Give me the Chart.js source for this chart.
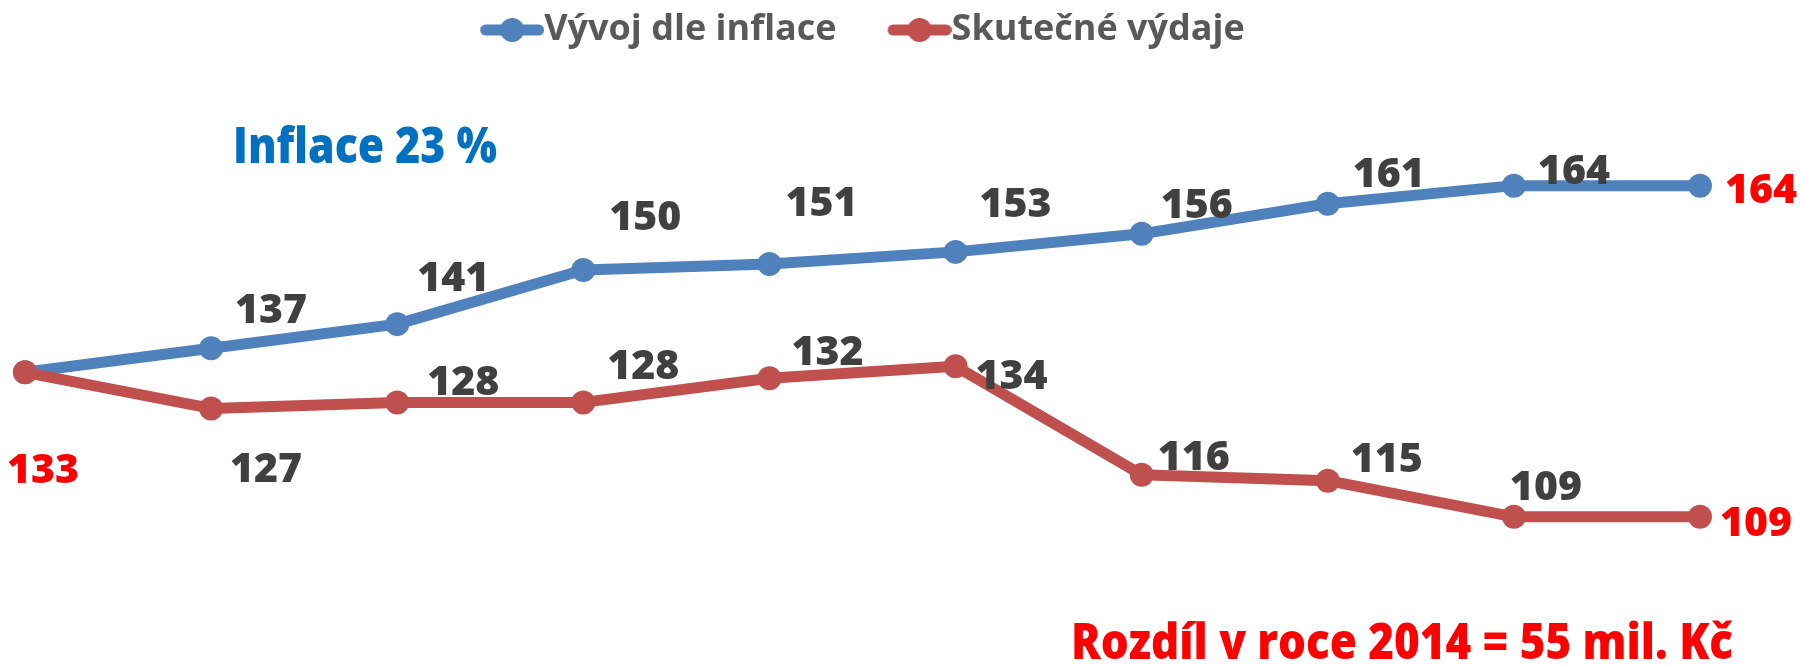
<!DOCTYPE html>
<html>
<head>
<meta charset="utf-8">
<script src="https://cdn.jsdelivr.net/npm/chart.js@4.4.1/dist/chart.umd.min.js"></script>
<style>
html,body{margin:0;padding:0;background:#ffffff;overflow:hidden}
#wrap{position:relative;width:1800px;height:666px}
</style>
</head>
<body>
<div id="wrap"><canvas id="c" width="1800" height="666"></canvas></div>
<script>
// ---- data ----
const categories = ['2005','2006','2007','2008','2009','2010','2011','2012','2013','2014'];
const inflationSeries = [133, 137, 141, 150, 151, 153, 156, 161, 164, 164];
const actualSeries    = [133, 127, 128, 128, 132, 134, 116, 115, 109, 109];
const seriesNames = ['Vývoj dle inflace', 'Skutečné výdaje'];
const inflationNote = 'Inflace 23 %';
const differenceNote = 'Rozdíl v roce 2014 = 55 mil. Kč';

// ---- styling / label placement (offsets from point to label centre) ----
const FONT = '"Open Sans", "Liberation Sans", sans-serif';
const BLUE = '#4F81BD', RED = '#C0504D';
const blueLabelOffsets = [null,[60,-40],[56,-48],[62,-55],[52,-63],[60,-50],[55,-30],[61,-31],[60,-16],[61,3]];
const redLabelOffsets  = [[18,96],[55,59],[66,-22],[60,-38],[58,-28],[56,8],[52,-19],[59,-23],[32,-31],[56,5]];
const labelOffsets = [blueLabelOffsets, redLabelOffsets];
const LABEL_SIZE = 41;

function legendMarker(color){
  const c = document.createElement('canvas');
  c.width = 82; c.height = 30;
  const g = c.getContext('2d');
  g.strokeStyle = color; g.lineWidth = 11; g.lineCap = 'round';
  g.beginPath(); g.moveTo(18 + 5.5, 15); g.lineTo(82 - 5.5, 15); g.stroke();
  g.fillStyle = color;
  g.beginPath(); g.arc(50, 15, 12, 0, Math.PI * 2); g.fill();
  return c;
}
const markers = [legendMarker(BLUE), legendMarker(RED)];

function drawFitted(ctx, text, x, baseline, width, size, color){
  ctx.save();
  ctx.font = `800 ${size}px ${FONT}`;
  ctx.fillStyle = color;
  ctx.textAlign = 'left';
  ctx.textBaseline = 'alphabetic';
  const w = ctx.measureText(text).width;
  const sx = width / w;
  ctx.translate(x, baseline);
  ctx.scale(sx, 1);
  ctx.fillText(text, 0, 0);
  ctx.restore();
}

const labelPlugin = {
  id: 'valueLabels',
  afterDatasetsDraw(chart){
    const ctx = chart.ctx;
    ctx.save();
    ctx.font = `800 ${LABEL_SIZE}px ${FONT}`;
    ctx.textAlign = 'center';
    ctx.textBaseline = 'alphabetic';
    const cap = LABEL_SIZE * 0.714;
    chart.data.datasets.forEach((ds, di) => {
      const meta = chart.getDatasetMeta(di);
      meta.data.forEach((pt, i) => {
        const o = labelOffsets[di][i];
        if (!o) return;
        const red = (i === ds.data.length - 1) || (di === 1 && i === 0);
        ctx.fillStyle = red ? '#FF0000' : '#404040';
        ctx.fillText(String(ds.data[i]), pt.x + o[0], pt.y + o[1] + cap / 2);
      });
    });
    ctx.restore();
    drawFitted(ctx, inflationNote, 233, 163, 264, 49, '#0070C0');
    drawFitted(ctx, differenceNote, 1071, 659, 662, 50, '#FF0000');
  }
};

new Chart(document.getElementById('c'), {
  type: 'line',
  data: {
    labels: categories,
    datasets: [
      { label: seriesNames[0], data: inflationSeries, borderColor: BLUE, backgroundColor: BLUE,
        pointBackgroundColor: BLUE, pointBorderColor: BLUE, borderWidth: 11, pointRadius: 12,
        pointBorderWidth: 0, borderJoinStyle: 'round', borderCapStyle: 'round', tension: 0, order: 1 },
      { label: seriesNames[1], data: actualSeries, borderColor: RED, backgroundColor: RED,
        pointBackgroundColor: RED, pointBorderColor: RED, borderWidth: 11, pointRadius: 12,
        pointBorderWidth: 0, borderJoinStyle: 'round', borderCapStyle: 'round', tension: 0, order: 0 }
    ]
  },
  options: {
    responsive: false,
    devicePixelRatio: 1,
    animation: false,
    layout: { padding: { top: -39, left: 25, right: 100, bottom: 95 } },
    scales: {
      x: { type: 'category', display: false, offset: false },
      y: { display: false, min: 100, max: 185.2 }
    },
    plugins: {
      tooltip: { enabled: false },
      legend: {
        display: true,
        position: 'top',
        labels: {
          usePointStyle: true,
          pointStyleWidth: 46,
          padding: 51,
          color: '#595959',
          font: { family: FONT, size: 36, weight: 'bold' },
          generateLabels(chart){
            const items = Chart.defaults.plugins.legend.labels.generateLabels(chart);
            items.forEach(it => { it.pointStyle = markers[it.datasetIndex]; it.fontColor = '#595959'; });
            return items;
          },
          sort: (a, b) => a.datasetIndex - b.datasetIndex
        }
      }
    }
  },
  plugins: [labelPlugin]
});
</script>
</body>
</html>
